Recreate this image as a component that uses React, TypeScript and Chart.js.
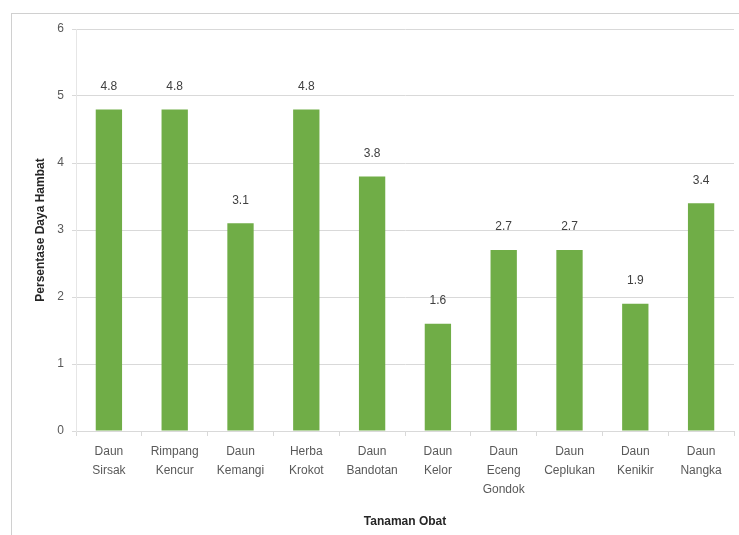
import React, { useEffect, useRef } from "react";
import { Chart, registerables } from "chart.js";

Chart.register(...registerables);

const categories: string[][] = [
  ["Daun", "Sirsak"],
  ["Rimpang", "Kencur"],
  ["Daun", "Kemangi"],
  ["Herba", "Krokot"],
  ["Daun", "Bandotan"],
  ["Daun", "Kelor"],
  ["Daun", "Eceng", "Gondok"],
  ["Daun", "Ceplukan"],
  ["Daun", "Kenikir"],
  ["Daun", "Nangka"],
];
const values: number[] = [4.8, 4.8, 3.1, 4.8, 3.8, 1.6, 2.7, 2.7, 1.9, 3.4];
const yTicks: number[] = [0, 1, 2, 3, 4, 5, 6];
const yTitle = "Persentase Daya Hambat";
const xTitle = "Tanaman Obat";

const FONT = "'Liberation Sans', 'DejaVu Sans', sans-serif";

const labelPlugin = {
  id: "barValueLabels",
  afterDatasetsDraw(chart: any) {
    const ctx = chart.ctx;
    const meta = chart.getDatasetMeta(0);
    ctx.save();
    ctx.font = `12px ${FONT}`;
    ctx.fillStyle = "#404040";
    ctx.textAlign = "center";
    ctx.textBaseline = "middle";
    meta.data.forEach((bar: any, i: number) => {
      ctx.fillText(values[i].toFixed(1), bar.x, bar.y - 23);
    });
    ctx.restore();
  },
};

export default function App() {
  const ref = useRef<HTMLCanvasElement | null>(null);
  useEffect(() => {
    if (!ref.current) return;
    const chart = new Chart(ref.current, {
      type: "bar",
      data: {
        labels: categories,
        datasets: [
          {
            data: values,
            backgroundColor: "#70AD47",
            barPercentage: 0.4,
            categoryPercentage: 1,
          },
        ],
      },
      options: {
        animation: false,
        responsive: false,
        maintainAspectRatio: false,
        layout: { padding: { left: 33, top: 29, right: 5, bottom: 6 } },
        plugins: { legend: { display: false }, tooltip: { enabled: false } },
        scales: {
          x: {
            offset: true,
            grid: {
              offset: true,
              drawOnChartArea: false,
              drawTicks: true,
              tickLength: 5,
              color: "#d9d9d9",
            },
            border: { color: "#d9d9d9" },
            ticks: {
              color: "#595959",
              font: { family: FONT, size: 12, lineHeight: 1.6 },
              maxRotation: 0,
              autoSkip: false,
              padding: 6,
            },
            title: {
              display: true,
              text: xTitle,
              color: "#262626",
              font: { family: FONT, size: 12, weight: "bold" },
              padding: { top: 2, bottom: 0 },
            },
            afterFit: (scale: any) => {
              scale.height = 98;
            },
          },
          y: {
            min: 0,
            max: 6,
            afterBuildTicks: (scale: any) => {
              scale.ticks = yTicks.map((v) => ({ value: v }));
            },
            grid: { color: "#d9d9d9", tickLength: 4 },
            border: { color: "#e6e6e6" },
            ticks: {
              color: "#595959",
              font: { family: FONT, size: 12 },
              padding: 8,
            },
            title: {
              display: true,
              text: yTitle,
              color: "#262626",
              font: { family: FONT, size: 12, weight: "bold" },
              padding: { top: 0, bottom: 8 },
            },
            afterFit: (scale: any) => {
              scale.width = 43;
            },
          },
        },
      },
      plugins: [labelPlugin],
    });
    return () => chart.destroy();
  }, []);
  return (
    <div
      style={{
        position: "fixed",
        left: 0,
        top: 0,
        width: 739,
        height: 535,
        background: "#fff",
      }}
    >
      <div
        style={{
          position: "absolute",
          left: 11,
          top: 13,
          right: -2,
          bottom: -2,
          borderLeft: "1px solid #d0d0d0",
          borderTop: "1px solid #d0d0d0",
        }}
      />
      <canvas
        ref={ref}
        width={739}
        height={535}
        style={{ position: "absolute", left: 0, top: 0 }}
      />
    </div>
  );
}
